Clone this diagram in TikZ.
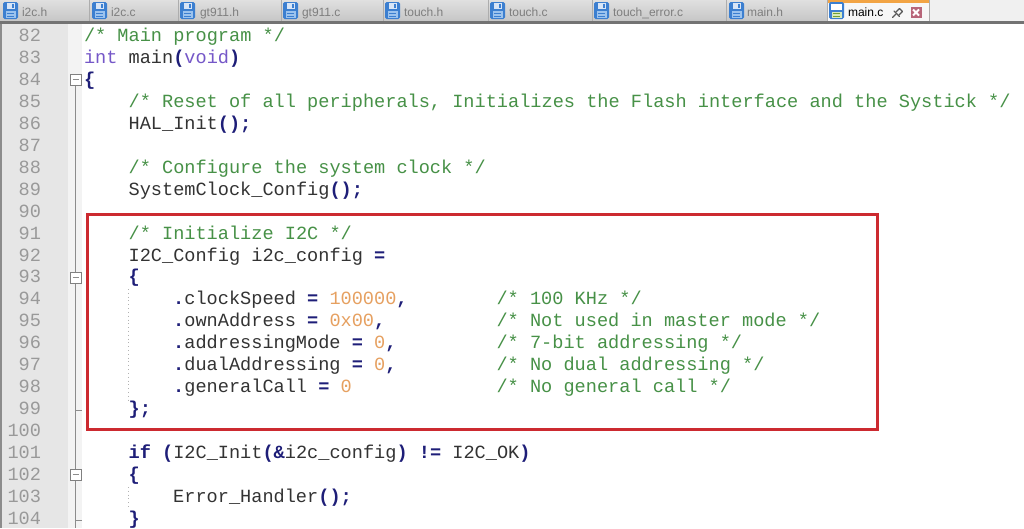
\documentclass[tikz,border=0pt]{standalone}
\usepackage{fontspec}
\setmainfont{Liberation Sans}
\setmonofont{Liberation Mono}
\usepackage{xcolor}
\usepackage{tikz}
\definecolor{commentcolor}{HTML}{479147}
\definecolor{typecolor}{HTML}{7557C8}
\definecolor{opcolor}{HTML}{1E1E78}
\definecolor{numcolor}{HTML}{E6A060}
\definecolor{linenocolor}{HTML}{999999}
\definecolor{gutterbg}{HTML}{E6E6E6}
\definecolor{foldbg}{HTML}{F3F3F3}
\definecolor{tabgray}{HTML}{C6C6C6}
\definecolor{tabtext}{HTML}{7E7E7E}
\definecolor{tabactive}{HTML}{F7F7F7}
\definecolor{tabtop}{HTML}{F2A444}
\definecolor{floppyblue}{HTML}{3C7FD0}
\definecolor{floppylight}{HTML}{9CC3EE}
\definecolor{floppygreen}{HTML}{8CC63F}
\definecolor{closecolor}{HTML}{B8667A}
\definecolor{boxred}{HTML}{CC2A30}

\newcommand{\cmtx}[1]{\textcolor{commentcolor}{#1}}
\newcommand{\typw}[1]{\textcolor{typecolor}{#1}}
\newcommand{\opr}[1]{\textcolor{opcolor}{\bfseries #1}}
\newcommand{\numv}[1]{\textcolor{numcolor}{#1}}

\tikzset{
  codeline/.style={anchor=base west, inner sep=0pt, outer sep=0pt, text=black!80, font=\ttfamily\frenchspacing\fontsize{0.465cm}{0.55cm}\selectfont},
  lineno/.style={anchor=base east, inner sep=0pt, outer sep=0pt, text=linenocolor, font=\ttfamily\fontsize{0.465cm}{0.55cm}\selectfont},
  tablabel/.style={anchor=base west, inner sep=0pt, outer sep=0pt, text=tabtext, font=\fontsize{0.3cm}{0.36cm}\selectfont},
  tabsep/.style={draw=black!32, line width=0.025cm},
  foldline/.style={draw=black!45, line width=0.025cm},
  foldbox/.style={draw=black!50, fill=white, line width=0.025cm},
  guide/.style={draw=black!30, line width=0.025cm, dotted},
  redbox/.style={draw=boxred, line width=0.075cm},
  pinline/.style={draw=black!65, line width=0.03cm, line cap=round, line join=round},
  floppy/.pic={
    \fill[floppyblue, rounded corners=0.04cm] (0,0) rectangle (15,17);
    \fill[white!80!floppyblue] (3.5,1) rectangle (11.5,6.5);
    \fill[floppyblue] (8.5,2) rectangle (10.5,5.5);
    \fill[floppylight] (2.5,9) rectangle (12.5,16);
    \draw[floppyblue, line width=0.02cm] (4,11.5) -- (11,11.5) (4,14) -- (11,14);
  },
  activefloppy/.pic={
    \fill[floppyblue, rounded corners=0.04cm] (0,0) rectangle (15,17);
    \fill[white] (2,1.5) rectangle (13,8);
    \fill[floppygreen!35!white] (2.5,9.5) rectangle (12.5,16);
    \draw[floppygreen!80!black, line width=0.02cm] (4,11.5) -- (11,11.5) (4,14) -- (11,14);
  }
}

\begin{document}
\begin{tikzpicture}[x=0.025cm, y=-0.025cm]%
\useasboundingbox (0,0) rectangle (1024,528);%
% tab bar
\fill[top color=tabgray!55!white, bottom color=tabgray] (0,0) rectangle (827,21);%
\fill[black!6] (929,0) rectangle (1024,21);%
\fill[tabactive] (827,0) rectangle (929,21);%
\fill[tabtop] (827,0) rectangle (929,3);%
\draw[tabsep] (89.5,0) -- (89.5,21) (178.5,0) -- (178.5,21) (281.5,0) -- (281.5,21) (383.5,0) -- (383.5,21) (488.5,0) -- (488.5,21) (592.5,0) -- (592.5,21) (726.5,0) -- (726.5,21) (827,0) -- (827,21) (929,0) -- (929,21);%
\fill[black!55] (0,21) rectangle (1024,23.5);%
\pic at (3,2) {floppy};%
\pic at (92,2) {floppy};%
\pic at (180,2) {floppy};%
\pic at (283,2) {floppy};%
\pic at (385,2) {floppy};%
\pic at (490,2) {floppy};%
\pic at (594,2) {floppy};%
\pic at (729,2) {floppy};%
\pic at (829,2) {activefloppy};%
\node[tablabel] (tabi2ch) at (22,16) {i2c.h};%
\node[tablabel] (tabi2cc) at (111,16) {i2c.c};%
\node[tablabel] (tabgth) at (200,16) {gt911.h};%
\node[tablabel] (tabgtc) at (302,16) {gt911.c};%
\node[tablabel] (tabtouchh) at (404,16) {touch.h};%
\node[tablabel] (tabtouchc) at (509,16) {touch.c};%
\node[tablabel] (taberror) at (613,16) {touch\_error.c};%
\node[tablabel] (tabmainh) at (747,16) {main.h};%
\node[tablabel, text=black] (tabmainc) at (848,16) {main.c};%
% pin and close
\draw[pinline] (892.5,17.5) -- (896,14);%
\draw[pinline] (894,11) -- (899.5,16.5);%
\draw[pinline] (896,12) -- (899.5,8.5) -- (902.5,11.5) -- (899,15);%
\fill[closecolor] (910.5,7) rectangle (921.5,18);%
\draw[white, line width=0.05cm] (913,9.5) -- (919,15.5) (913,15.5) -- (919,9.5);%
% editor
\fill[white] (0,23.5) rectangle (1024,528);%
\fill[gutterbg] (2,23.5) rectangle (68,528);%
\fill[foldbg] (68,23.5) rectangle (82,528);%
\fill[black!45] (0,23.5) rectangle (2,528);%
\draw[foldline] (75.5,85) -- (75.5,528);%
\draw[foldline] (75.5,410) -- (82,410) (75.5,520) -- (82,520);%
\draw[foldbox] (70,74) rectangle (81,85);%
\draw[foldbox] (70,272) rectangle (81,283);%
\draw[foldbox] (70,469) rectangle (81,480);%
\draw[foldline] (72.5,79.5) -- (78.5,79.5) (72.5,277.5) -- (78.5,277.5) (72.5,474.5) -- (78.5,474.5);%
\draw[guide] (128.6,289) -- (128.6,400);%
\draw[guide] (128.6,487) -- (128.6,507);%
% line numbers
\node[lineno] (n82) at (41,41.5) {82};%
\node[lineno] (n83) at (41,63.45) {83};%
\node[lineno] (n84) at (41,85.4) {84};%
\node[lineno] (n85) at (41,107.35) {85};%
\node[lineno] (n86) at (41,129.3) {86};%
\node[lineno] (n87) at (41,151.25) {87};%
\node[lineno] (n88) at (41,173.2) {88};%
\node[lineno] (n89) at (41,195.15) {89};%
\node[lineno] (n90) at (41,217.1) {90};%
\node[lineno] (n91) at (41,239.05) {91};%
\node[lineno] (n92) at (41,261.0) {92};%
\node[lineno] (n93) at (41,282.95) {93};%
\node[lineno] (n94) at (41,304.9) {94};%
\node[lineno] (n95) at (41,326.85) {95};%
\node[lineno] (n96) at (41,348.8) {96};%
\node[lineno] (n97) at (41,370.75) {97};%
\node[lineno] (n98) at (41,392.7) {98};%
\node[lineno] (n99) at (41,414.65) {99};%
\node[lineno] (n100) at (41,436.6) {100};%
\node[lineno] (n101) at (41,458.55) {101};%
\node[lineno] (n102) at (41,480.5) {102};%
\node[lineno] (n103) at (41,502.45) {103};%
\node[lineno] (n104) at (41,524.4) {104};%
% code
\node[codeline] (c82) at (84,41.5) {\cmtx{/* Main program */}};%
\node[codeline] (c83) at (84,63.45) {\typw{int} main\opr{(}\typw{void}\opr{)}};%
\node[codeline] (c84) at (84,85.4) {\opr{\{}};%
\node[codeline] (c85) at (128.6,107.35) {\cmtx{/* Reset of all peripherals, Initializes the Flash interface and the Systick */}};%
\node[codeline] (c86) at (128.6,129.3) {HAL\_Init\opr{();}};%
\node[codeline] (c88) at (128.6,173.2) {\cmtx{/* Configure the system clock */}};%
\node[codeline] (c89) at (128.6,195.15) {SystemClock\_Config\opr{();}};%
\node[codeline] (c91) at (128.6,239.05) {\cmtx{/* Initialize I2C */}};%
\node[codeline] (c92) at (128.6,261.0) {I2C\_Config i2c\_config \opr{=}};%
\node[codeline] (c93) at (128.6,282.95) {\opr{\{}};%
\node[codeline] (c94) at (173.2,304.9) {\opr{.}clockSpeed \opr{=} \numv{100000}\opr{,}};%
\node[codeline] (c95) at (173.2,326.85) {\opr{.}ownAddress \opr{=} \numv{0x00}\opr{,}};%
\node[codeline] (c96) at (173.2,348.8) {\opr{.}addressingMode \opr{=} \numv{0}\opr{,}};%
\node[codeline] (c97) at (173.2,370.75) {\opr{.}dualAddressing \opr{=} \numv{0}\opr{,}};%
\node[codeline] (c98) at (173.2,392.7) {\opr{.}generalCall \opr{=} \numv{0}};%
\node[codeline] (k94) at (496.55,304.9) {\cmtx{/* 100 KHz */}};%
\node[codeline] (k95) at (496.55,326.85) {\cmtx{/* Not used in master mode */}};%
\node[codeline] (k96) at (496.55,348.8) {\cmtx{/* 7-bit addressing */}};%
\node[codeline] (k97) at (496.55,370.75) {\cmtx{/* No dual addressing */}};%
\node[codeline] (k98) at (496.55,392.7) {\cmtx{/* No general call */}};%
\node[codeline] (c99) at (128.6,414.65) {\opr{\};}};%
\node[codeline] (c101) at (128.6,458.55) {\opr{if} \opr{(}I2C\_Init\opr{(\&}i2c\_config\opr{)} \opr{!=} I2C\_OK\opr{)}};%
\node[codeline] (c102) at (128.6,480.5) {\opr{\{}};%
\node[codeline] (c103) at (173.2,502.45) {Error\_Handler\opr{();}};%
\node[codeline] (c104) at (128.6,524.4) {\opr{\}}};%
% highlight
\draw[redbox] (87,214.5) rectangle (877.5,429);%
\end{tikzpicture}
\end{document}
